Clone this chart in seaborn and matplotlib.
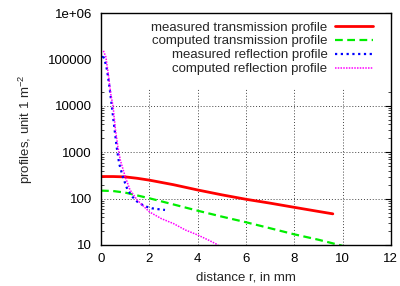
import matplotlib
matplotlib.use("Agg")
import matplotlib.pyplot as plt
from matplotlib.patches import Rectangle
import numpy as np
import pandas as pd
import seaborn as sns

# measured transmission profile
mt_r = [0, 0.5, 1.0, 1.5, 2.0, 3.0, 4.0, 5.0, 6.0, 7.0, 8.0, 9.0, 9.6]
mt_v = [300, 300, 295, 275, 251, 200, 154, 121, 97, 80, 65, 53, 47]

# computed transmission profile
ct_r = [0, 0.5, 1.0, 2.0, 3.0, 4.0, 5.0, 6.0, 7.0, 8.0, 9.0, 10.0]
ct_v = [149, 146, 135, 102, 75, 55, 41, 31, 23, 17, 13, 9.6]

# measured reflection profile
mr_r = [0.0, 0.05, 0.15, 0.25, 0.35, 0.45, 0.55, 0.65, 0.75, 0.9, 1.1, 1.3, 1.5,
        1.8, 2.1, 2.4, 2.65]
mr_v = [110000, 130000, 100000, 60000, 26000, 9800, 3500, 1300, 580, 300, 155,
        110, 86, 69, 62, 59, 57]

# computed reflection profile
cr_r = [0.1, 0.2, 0.3, 0.4, 0.5, 0.6, 0.7, 0.8, 1.0, 1.2, 1.5, 2.0, 2.5, 3.0,
        3.5, 4.0, 4.5, 4.85]
cr_v = [155000, 115000, 50000, 18600, 9800, 3000, 1300, 680, 300, 155, 93, 52,
        37, 29, 21, 16.5, 12.4, 10]

y_ticks = [10, 100, 1000, 10000, 100000, 1000000]
y_tick_labels = ["10", "100", "1000", "10000", "100000", "1e+06"]
x_ticks = [0, 2, 4, 6, 8, 10, 12]

sns.set_theme(style="white")
plt.rcParams["font.family"] = ["Liberation Sans", "DejaVu Sans"]
plt.rcParams["mathtext.fontset"] = "custom"
plt.rcParams["mathtext.rm"] = "Liberation Sans"
plt.rcParams["mathtext.it"] = "Liberation Sans"

fig = plt.figure(figsize=(4.0, 2.86), dpi=100)
ax = fig.add_axes([0.2525, 0.1434, 0.7245, 0.8101])

series = [
    (mt_r, mt_v, "measured transmission profile", "#ff0000", "-", 2.0),
    (ct_r, ct_v, "computed transmission profile", "#00ee00", (0, (3.5, 2)), 1.6),
    (mr_r, mr_v, "measured reflection profile", "#0000ff", (0, (1, 1.6)), 1.6),
    (cr_r, cr_v, "computed reflection profile", "#ff00ff", (0, (1, 0.8)), 1.1),
]
for r, v, name, col, ls, lw in series:
    df = pd.DataFrame({"r": r, "v": v})
    sns.lineplot(data=df, x="r", y="v", ax=ax, color=col, linestyle=ls,
                 linewidth=lw, label=name, sort=False, estimator=None)

ax.set_yscale("log")
ax.set_xlim(0, 12)
ax.set_ylim(10, 1e6)
ax.set_xticks(x_ticks)
ax.set_yticks(y_ticks)
ax.set_yticklabels(y_tick_labels)
ax.tick_params(axis="both", which="major", direction="in", length=4.2, width=0.8,
               top=True, right=True, labelsize=9.5, colors="black")
ax.tick_params(axis="x", which="major", pad=6)
ax.tick_params(axis="y", which="major", pad=6.5)
ax.tick_params(axis="y", which="minor", direction="in", length=2.2, width=0.6,
               left=True, right=True)
ax.yaxis.set_minor_locator(matplotlib.ticker.LogLocator(base=10, subs=np.arange(2, 10)))
ax.yaxis.set_minor_formatter(matplotlib.ticker.NullFormatter())
ax.grid(True, which="major", color="#444444", linestyle=(0, (1, 2)), linewidth=0.7)
for s in ax.spines.values():
    s.set_color("black")
    s.set_linewidth(1.0)

# the key area hides the grid behind it, as in the original
ax.add_patch(Rectangle((0, 0.678), 1, 0.322, transform=ax.transAxes,
                       facecolor="white", edgecolor="none", zorder=1))

ax.set_xlabel("distance r, in mm", fontsize=9.5, labelpad=4.5)
ax.set_ylabel(r"profiles, unit 1 m$^{-2}$", fontsize=9.5, labelpad=9)

leg = ax.legend(loc="upper right", bbox_to_anchor=(0.948, 0.977),
                markerfirst=False, frameon=False,
                fontsize=9.5, handlelength=2.85, handletextpad=0.6,
                labelspacing=0.13, borderaxespad=0.0, borderpad=0.2)

fig.savefig("out.png", dpi=100)
